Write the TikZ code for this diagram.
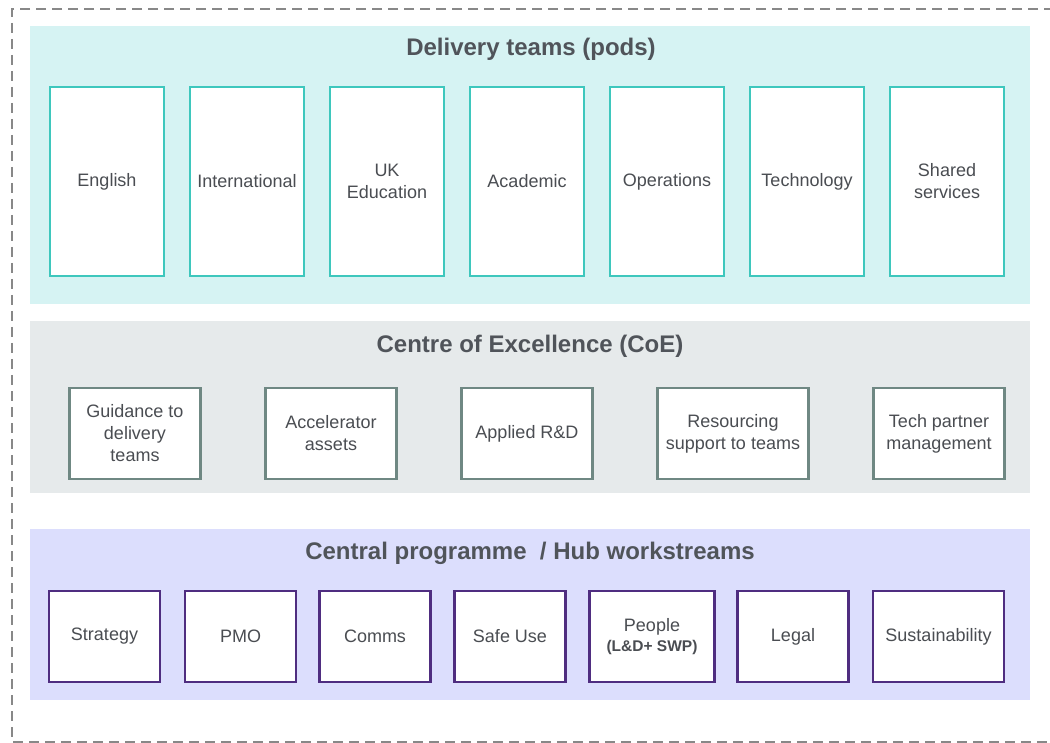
\documentclass[tikz,border=0pt]{standalone}
\usepackage{fontspec}
\setmainfont{Liberation Sans}
\definecolor{outerdash}{HTML}{888888}
\definecolor{podbg}{HTML}{D6F3F3}
\definecolor{podline}{HTML}{3EC7BD}
\definecolor{coebg}{HTML}{E6EAEB}
\definecolor{coeline}{HTML}{6F8883}
\definecolor{hubbg}{HTML}{DCDEFD}
\definecolor{hubline}{HTML}{4F2D80}
\definecolor{txt}{HTML}{4A4D52}
\definecolor{ttl}{HTML}{50545A}
\begin{document}
\begin{tikzpicture}[x=1pt,y=-1pt,
  band/.style={draw=none,anchor=north west,inner sep=0pt},
  boxbase/.style={fill=white,line width=2.5pt,inner sep=2pt,align=center,
    text=txt,font=\fontsize{18}{22}\selectfont},
  podbox/.style={boxbase,draw=podline,minimum width=114pt,minimum height=189pt},
  coebox/.style={boxbase,draw=coeline,minimum height=91pt},
  hubbox/.style={boxbase,draw=hubline,minimum width=111pt,minimum height=91pt},
  bandtitle/.style={text=ttl,font=\fontsize{24}{28}\bfseries\selectfont,inner sep=0pt}]
\useasboundingbox (0,0) rectangle (1050,743);
\fill[white] (0,0) rectangle (1050,743);
% outer dashed frame
\draw[outerdash,line width=2.2pt,dash pattern=on 10pt off 6pt] (1070,9) -- (12,9) -- (12,742) -- (1070,742);
% bands
\node[band,fill=podbg,minimum width=1000pt,minimum height=278pt] (podband) at (30,26) {};
\node[band,fill=coebg,minimum width=1000pt,minimum height=172pt] (coeband) at (30,321) {};
\node[band,fill=hubbg,minimum width=1000pt,minimum height=171pt] (hubband) at (30,529) {};
% titles
\node[bandtitle] (podtitle) at (531,49) {Delivery teams (pods)};
\node[bandtitle] (coetitle) at (530,346) {Centre of Excellence (CoE)};
\node[bandtitle] (hubtitle) at (530,553) {Central programme\ \ / Hub workstreams};
% pods
\node[podbox] (p1) at (107,181.5) {English};
\node[podbox] (p2) at (247,181.5) {International};
\node[podbox] (p3) at (387,181.5) {UK\\Education};
\node[podbox] (p4) at (527,181.5) {Academic};
\node[podbox] (p5) at (667,181.5) {Operations};
\node[podbox] (p6) at (807,181.5) {Technology};
\node[podbox] (p7) at (947,181.5) {Shared\\services};
% CoE
\node[coebox,minimum width=131pt] (c1) at (135,433.5) {Guidance to\\delivery\\teams};
\node[coebox,minimum width=131pt] (c2) at (331,433.5) {Accelerator\\assets};
\node[coebox,minimum width=131pt] (c3) at (527,433.5) {Applied R\&D};
\node[coebox,minimum width=151pt] (c4) at (733,433.5) {Resourcing\\support to teams};
\node[coebox,minimum width=131pt] (c5) at (939,433.5) {Tech partner\\management};
% Hub
\node[hubbox] (h1) at (104.5,636.5) {Strategy};
\node[hubbox] (h2) at (240.5,636.5) {PMO};
\node[hubbox] (h3) at (375,636.5) {Comms};
\node[hubbox] (h4) at (510,636.5) {Safe Use};
\node[hubbox,minimum width=125pt] (h5) at (652,636.5) {People\\[-2pt]{\fontsize{15.5}{17}\bfseries\selectfont(L\&D+ SWP)}};
\node[hubbox] (h6) at (793,636.5) {Legal};
\node[hubbox,minimum width=131pt] (h7) at (938.5,636.5) {Sustainability};
\end{tikzpicture}
\end{document}
